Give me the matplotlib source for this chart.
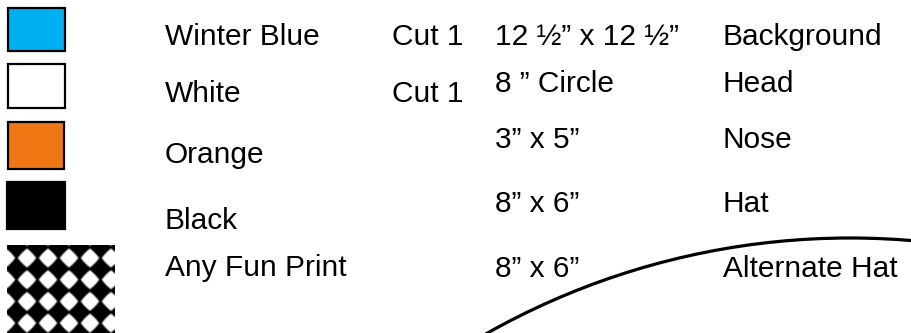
import numpy as np
import matplotlib
matplotlib.use("Agg")
import matplotlib.pyplot as plt
from matplotlib.patches import Rectangle, Circle

# ---- data ----
fabric_names = ["Winter Blue", "White", "Orange", "Black", "Any Fun Print"]
fabric_colors = ["#00B0F0", "#FFFFFF", "#F07814", "#000000", None]
cut_counts = ["Cut 1", "Cut 1", "", "", ""]
piece_sizes = ["12 ½” x 12 ½”", "8 ” Circle", "3” x 5”", "8” x 6”", "8” x 6”"]
piece_names = ["Background", "Head", "Nose", "Hat", "Alternate Hat"]

# ---- layout (pixel units) ----
W, H = 912, 333
swatch_boxes = [(8, 8, 57, 43), (8, 64, 57, 44), (8, 122, 56, 47),
                (7, 182, 58, 47), (7, 245, 108, 88)]
label_base = [45, 102, 163, 229, 276]
size_base = [45, 92, 148, 212, 277]
x_name, x_cut, x_size, x_piece = 165, 392, 495, 723
fs = 21.5
font = ["Liberation Sans", "DejaVu Sans"]

fig = plt.figure(figsize=(W / 100, H / 100), dpi=100)
ax = fig.add_axes([0, 0, 1, 1])
ax.set_xlim(0, W)
ax.set_ylim(H, 0)
ax.axis("off")

for i, name in enumerate(fabric_names):
    x, y, w, h = swatch_boxes[i]
    col = fabric_colors[i]
    if col is not None:
        ax.add_patch(Rectangle((x, y), w, h, facecolor=col, edgecolor="black",
                               linewidth=1.6, zorder=2))
    else:
        # diamond print pattern: rounded white diamonds on black
        xs = np.arange(x, x + w, 0.5) + 0.25
        ys = np.arange(y, y + h, 0.5) + 0.25
        X, Y = np.meshgrid(xs, ys)
        a = (X - 27) / 21.0
        b = (Y - 258) / 21.7
        da = np.abs(a - np.round(a))
        db = np.abs(b - np.round(b))
        p = 1.15
        d = 2 * (da ** p + db ** p) ** (1 / p)
        val = np.clip((0.86 - d) / 0.2 + 0.5, 0, 1)
        ax.imshow(val, cmap="gray", vmin=0, vmax=1, extent=(x, x + w, y + h, y),
                  interpolation="bilinear", zorder=2)
    ax.text(x_name, label_base[i], name, fontsize=fs, family=font,
            va="baseline", ha="left", color="black")
    if cut_counts[i]:
        ax.text(x_cut, label_base[i], cut_counts[i], fontsize=fs, family=font,
                va="baseline", ha="left", color="black")
    ax.text(x_size, size_base[i], piece_sizes[i], fontsize=fs, family=font,
            va="baseline", ha="left", color="black")
    ax.text(x_piece, size_base[i], piece_names[i], fontsize=fs, family=font,
            va="baseline", ha="left", color="black")

# head circle outline (partially visible)
ax.add_patch(Circle((850, 977), 739, facecolor="none", edgecolor="black",
                    linewidth=2.3, zorder=1))

ax.set_xlim(0, W)
ax.set_ylim(H, 0)
ax.set_aspect("auto")
fig.savefig("out.png", dpi=100, facecolor="white")
